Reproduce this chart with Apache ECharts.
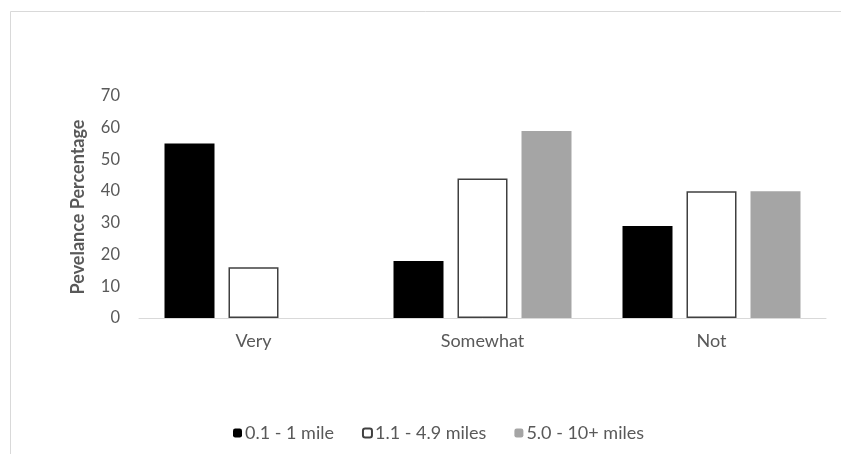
<!DOCTYPE html>
<html>
<head>
<meta charset="utf-8">
<script src="https://cdn.jsdelivr.net/npm/echarts@6/dist/echarts.min.js"></script>
<style>
  html, body { margin: 0; padding: 0; background: #fff; }
  #chart { width: 841px; height: 454px; }
</style>
</head>
<body>
<div id="chart"></div>
<script>
// Perceived walkability by distance travelled
const categories = ['Very', 'Somewhat', 'Not'];
const seriesNames = ['0.1 - 1 mile', '1.1 - 4.9 miles', '5.0 - 10+ miles'];
const nearValues = [55, 18, 29];
const midValues = [16, 44, 40];
const farValues = [null, 59, 40];
const yTicks = [0, 10, 20, 30, 40, 50, 60, 70];

const textColor = '#595959';
const fontFamily = 'Lato, "Open Sans", sans-serif';

const chart = echarts.init(document.getElementById('chart'), null, { renderer: 'canvas' });

chart.setOption({
  animation: false,
  backgroundColor: '#ffffff',
  graphic: [
    { type: 'line', shape: { x1: 10.5, y1: 11.5, x2: 841, y2: 11.5 }, style: { stroke: '#d9d9d9', lineWidth: 1 } },
    { type: 'line', shape: { x1: 10.5, y1: 11.5, x2: 10.5, y2: 454 }, style: { stroke: '#d9d9d9', lineWidth: 1 } }
  ],
  grid: { left: 139, right: 15, top: 96, bottom: 136 },
  legend: {
    top: 419,
    left: 228,
    itemWidth: 9,
    itemHeight: 9,
    itemGap: 28,
    textStyle: { color: textColor, fontSize: 18, fontFamily: fontFamily, padding: [0, 0, 0, -2] },
    data: seriesNames
  },
  xAxis: {
    type: 'category',
    data: categories,
    axisLine: { lineStyle: { color: '#d9d9d9', width: 1 } },
    axisTick: { show: false },
    axisLabel: { color: textColor, fontSize: 18, fontFamily: fontFamily, margin: 14 }
  },
  yAxis: {
    type: 'value',
    min: yTicks[0],
    max: yTicks[yTicks.length - 1],
    interval: 10,
    name: 'Pevelance Percentage',
    nameLocation: 'middle',
    nameGap: 52,
    nameTextStyle: { color: textColor, fontSize: 18, fontWeight: 'bold', fontFamily: fontFamily },
    axisLine: { show: false },
    axisTick: { show: false },
    splitLine: { show: false },
    axisLabel: { color: textColor, fontSize: 16.5, fontFamily: fontFamily, margin: 19 }
  },
  series: [
    {
      name: seriesNames[0],
      type: 'bar',
      data: nearValues,
      barWidth: 50,
      barGap: '28%',
      itemStyle: { color: '#000000' }
    },
    {
      name: seriesNames[1],
      type: 'bar',
      data: midValues,
      barWidth: 50,
      itemStyle: { color: '#ffffff', borderColor: '#404040', borderWidth: 1.5 }
    },
    {
      name: seriesNames[2],
      type: 'bar',
      data: farValues,
      barWidth: 50,
      itemStyle: { color: '#a5a5a5' }
    }
  ]
});
</script>
</body>
</html>
